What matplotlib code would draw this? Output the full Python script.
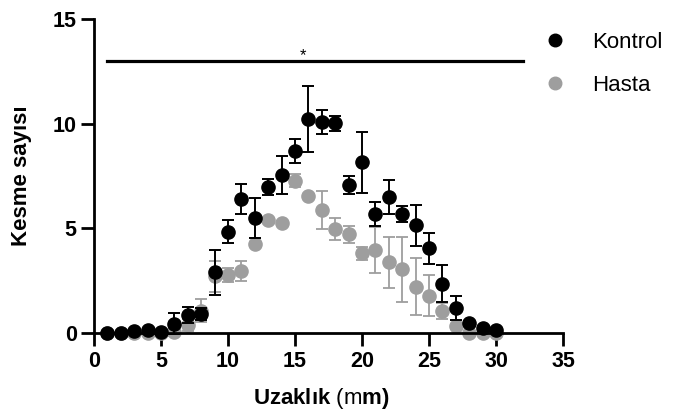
import matplotlib
matplotlib.use('Agg')
import matplotlib.pyplot as plt

plt.rcParams['font.family'] = ['Liberation Sans', 'DejaVu Sans']
plt.rcParams['mathtext.fontset'] = 'custom'
plt.rcParams['mathtext.rm'] = 'Liberation Sans'
plt.rcParams['mathtext.bf'] = 'Liberation Sans:bold'

distance = list(range(1, 31))
kontrol = [0.0, 0.0, 0.08, 0.15, 0.05, 0.45, 0.85, 0.9, 2.9, 4.85,
           6.4, 5.5, 7.0, 7.55, 8.7, 10.25, 10.1, 10.03, 7.1, 8.17,
           5.7, 6.5, 5.7, 5.15, 4.05, 2.35, 1.2, 0.5, 0.22, 0.12]
kontrol_err = [0.0, 0.0, 0.0, 0.0, 0.0, 0.5, 0.38, 0.3, 1.08, 0.56,
               0.73, 0.96, 0.38, 0.9, 0.57, 1.58, 0.56, 0.37, 0.43, 1.45,
               0.58, 0.8, 0.38, 0.98, 0.75, 0.88, 0.58, 0.0, 0.0, 0.0]
hasta = [0.0, 0.0, 0.0, 0.0, 0.0, 0.05, 0.38, 1.07, 2.72, 2.77,
         2.97, 4.24, 5.39, 5.28, 7.29, 6.55, 5.89, 4.98, 4.72, 3.81,
         3.97, 3.38, 3.05, 2.22, 1.79, 1.05, 0.35, 0.0, 0.0, 0.0]
hasta_err = [0.0, 0.0, 0.0, 0.0, 0.0, 0.2, 0.3, 0.55, 0.74, 0.32,
             0.49, 0.0, 0.0, 0.0, 0.32, 0.0, 0.9, 0.51, 0.4, 0.32,
             1.1, 1.23, 1.56, 1.38, 0.98, 0.4, 0.0, 0.0, 0.0, 0.0]

fig = plt.figure(figsize=(6.82, 4.19), dpi=100)
ax = fig.add_axes([0.1378, 0.2053, 0.6877, 0.7482])

gray = '#9e9e9e'
ax.errorbar(distance, hasta, yerr=hasta_err, fmt='o', color=gray, ecolor=gray,
            markersize=9.5, capsize=4, elinewidth=1.3, capthick=1.3,
            label='Hasta', zorder=2, clip_on=False)
ax.errorbar(distance, kontrol, yerr=kontrol_err, fmt='o', color='black',
            ecolor='black', markersize=9.5, capsize=4, elinewidth=1.4,
            capthick=1.4, label='Kontrol', zorder=3, clip_on=False)

# significance bar
ax.plot([1, 32], [13, 13], color='black', lw=2.3)
ax.text(15.6, 12.9, '*', ha='center', va='bottom', fontsize=12)

ax.set_xlim(0, 35)
ax.set_ylim(0, 15)
ax.set_xticks([0, 5, 10, 15, 20, 25, 30, 35])
ax.set_yticks([0, 5, 10, 15])
for s in ['top', 'right']:
    ax.spines[s].set_visible(False)
for s in ['left', 'bottom']:
    ax.spines[s].set_linewidth(2)
ax.tick_params(width=2, length=9.4, labelsize=15.5)
ax.tick_params(axis='x', pad=3.6)
ax.tick_params(axis='y', pad=3)
for lab in ax.get_xticklabels() + ax.get_yticklabels():
    lab.set_fontweight('bold')

ax.set_xlabel(r'$\mathbf{Uzaklık}$ (m$\mathbf{m)}$', fontsize=16)
ax.xaxis.set_label_coords(0.484, -0.17)
ax.set_ylabel('Kesme sayısı', fontsize=16, fontweight='bold')
ax.yaxis.set_label_coords(-0.132, 0.5)

h, l = ax.get_legend_handles_labels()
leg = fig.legend([hh[0] for hh in h[::-1]], l[::-1], loc='upper left',
                 bbox_to_anchor=(0.7815, 0.945), borderaxespad=0,
                 frameon=False, fontsize=16, handletextpad=1.05,
                 labelspacing=1.0, handlelength=1.2, markerscale=0.95)

fig.savefig('out.png', dpi=100)
